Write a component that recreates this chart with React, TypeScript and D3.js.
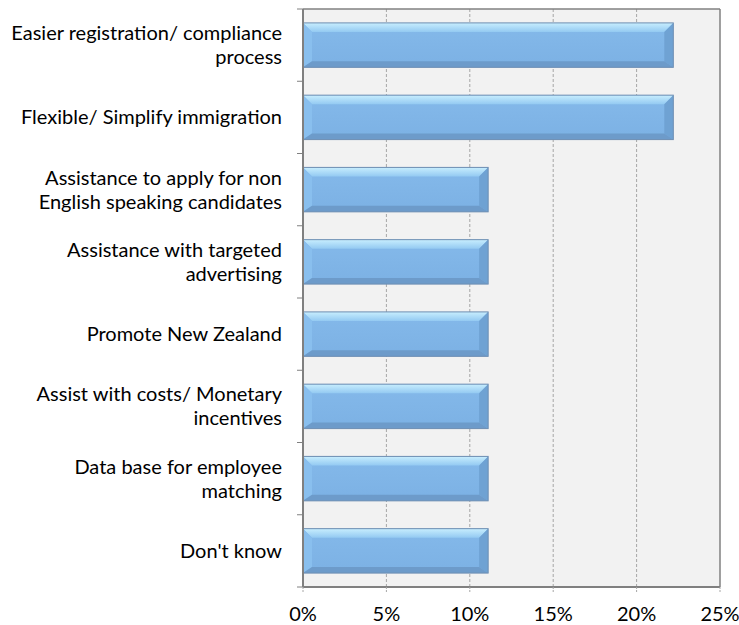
import React from "react";
import * as d3 from "d3";

const categories: string[][] = [
  ["Easier registration/ compliance", "process"],
  ["Flexible/ Simplify immigration"],
  ["Assistance to apply for non", "English speaking candidates"],
  ["Assistance with targeted", "advertising"],
  ["Promote New Zealand"],
  ["Assist with costs/ Monetary", "incentives"],
  ["Data base for employee", "matching"],
  ["Don't know"],
];
const values: number[] = [0.222, 0.222, 0.111, 0.111, 0.111, 0.111, 0.111, 0.111];
const xTicks: number[] = [0, 0.05, 0.1, 0.15, 0.2, 0.25];

const W = 739;
const H = 625;
const FONT = "Lato, 'Liberation Sans', sans-serif";

export default function App() {
  const left = 303;
  const right = 720;
  const top = 9;
  const bottom = 587;
  const keys = categories.map((_, i) => String(i));
  const x = d3.scaleLinear().domain([0, 0.25]).range([left, right]);
  const y = d3
    .scaleBand<string>()
    .domain(keys)
    .range([top, bottom])
    .paddingInner(0.385)
    .paddingOuter(0.1925);
  const step = y.step();
  const boundaries = d3.range(categories.length + 1).map((i) => top + i * step);
  const fmt = d3.format(".0%");

  const bt = 9, bb = 6, bl = 9, br = 9;

  return (
    <svg
      width={W}
      height={H}
      style={{ position: "absolute", left: 0, top: 0, background: "#fff" }}
      fontFamily={FONT}
    >
      <defs>
        <linearGradient id="topBev" x1="0" y1="0" x2="0" y2="1">
          <stop offset="0" stopColor="#c8eefe" />
          <stop offset="1" stopColor="#94caf2" />
        </linearGradient>
        <linearGradient id="mainFill" x1="0" y1="0" x2="0" y2="1">
          <stop offset="0" stopColor="#84b9ea" />
          <stop offset="1" stopColor="#7cb1e4" />
        </linearGradient>
      </defs>
      <rect x={left} y={top} width={right - left} height={bottom - top} fill="#f2f2f2" />
      {xTicks.slice(1, -1).map((t) => (
        <line
          key={"g" + t}
          x1={x(t)}
          x2={x(t)}
          y1={top}
          y2={bottom}
          stroke="#a6a6a6"
          strokeWidth={1}
          strokeDasharray="3,2"
        />
      ))}
      {/* border */}
      <line x1={left} x2={right} y1={top} y2={top} stroke="#808080" strokeWidth={1.5} />
      <line x1={right} x2={right} y1={top} y2={bottom} stroke="#808080" strokeWidth={1.5} />
      {values.map((v, i) => {
        const x0 = x(0);
        const x1 = x(v);
        const y0 = y(keys[i]) as number;
        const y1 = y0 + y.bandwidth();
        const pts = (a: number[][]) => a.map((p) => p.join(",")).join(" ");
        return (
          <g key={"b" + i}>
            <rect x={x0} y={y0} width={x1 - x0} height={y1 - y0} fill="url(#mainFill)" />
            <polygon
              points={pts([[x0, y0], [x1, y0], [x1 - br, y0 + bt], [x0 + bl, y0 + bt]])}
              fill="url(#topBev)"
            />
            <polygon
              points={pts([[x0, y0], [x0 + bl, y0 + bt], [x0 + bl, y1 - bb], [x0, y1]])}
              fill="#89bfee"
            />
            <polygon
              points={pts([[x1, y0], [x1, y1], [x1 - br, y1 - bb], [x1 - br, y0 + bt]])}
              fill="#6fa2d3"
            />
            <polygon
              points={pts([[x0, y1], [x0 + bl, y1 - bb], [x1 - br, y1 - bb], [x1, y1]])}
              fill="#6d9bca"
            />
            <rect
              x={x0}
              y={y0}
              width={x1 - x0}
              height={y1 - y0}
              fill="none"
              stroke="#6f8fb3"
              strokeWidth={1}
            />
          </g>
        );
      })}
      {/* axes */}
      <line x1={left} x2={left} y1={top} y2={bottom} stroke="#808080" strokeWidth={2} />
      <line x1={left} x2={right} y1={bottom} y2={bottom} stroke="#808080" strokeWidth={2} />
      {boundaries.map((b, i) => (
        <line key={"yt" + i} x1={left - 6} x2={left} y1={b} y2={b} stroke="#808080" strokeWidth={1} />
      ))}
      {xTicks.map((t) => (
        <line key={"xt" + t} x1={x(t)} x2={x(t)} y1={bottom} y2={bottom + 5} stroke="#a6a6a6" strokeWidth={1} strokeDasharray="2,1" />
      ))}
      {categories.map((lines, i) => {
        const c = (y(keys[i]) as number) + y.bandwidth() / 2;
        const lh = 24;
        const base = c + 7 - ((lines.length - 1) * lh) / 2;
        return (
          <text key={"l" + i} textAnchor="end" fontSize={20} fill="#000">
            {lines.map((ln, j) => (
              <tspan key={j} x={282} y={base + j * lh}>
                {ln}
              </tspan>
            ))}
          </text>
        );
      })}
      {xTicks.map((t) => (
        <text key={"xl" + t} x={x(t)} y={621} textAnchor="middle" fontSize={20} fill="#000">
          {fmt(t)}
        </text>
      ))}
    </svg>
  );
}
